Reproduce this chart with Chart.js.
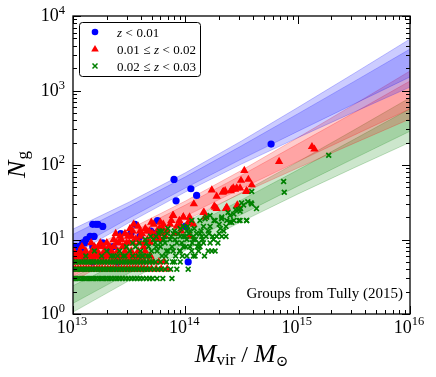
<!DOCTYPE html>
<html><head><meta charset="utf-8">
<script src="https://cdn.jsdelivr.net/npm/chart.js@4.4.1/dist/chart.umd.min.js"></script>
<style>html,body{margin:0;padding:0;background:#fff;}canvas{display:block;}</style>
</head><body>
<canvas id="c" width="436" height="377"></canvas>
<script>
// ---- data (masses in units of 1e13 Msun) ----
const blueM = [1.01,1.06,1.02,1.11,1.15,1.22,1.27,1.31,1.42,1.54,1.50,1.60,1.67,1.84,1.84,2.13,2.28,2.66,3.28,3.57,3.95,4.92,5.65,5.34,7.93,8.27,11.2,12.6,10.0,10.6,58,1.0,1.25,1.5,1.8,2.5,1.18,1.5];
const blueN = [8,7,6,8,8,9,9,10,11,11,16,16,16,15,9,7,8,12,12,16,11,13,18,12,64,33,48,39,15,5,191,6,6,5,6,5,7,8];

const redM = [3.47,4.98,5.23,4.56,3.09,2.55,3.59,3.97,4.26,3.17, 2.77,2.08,7.73,9.6,10.6,11.9,8.97,7.31,6.29,4.78, 3.95,3.22,3.33,2.62,2.45,2.13,1.86,1.68,3.64,5.48, 6.6,8.38,11.0,18.4,23.4,29.0,7.82,14.5,8.85,10.9, 11.8,6.37,5.87,6.11,5.26,5.95,33.5,31.3,36.4,39.0, 35.2,30.7,28.7,26.7,25.4,22.6,21.5,19.0,17.2,18.1, 19.0,23.0,29.0,68.3,134,141,14.7,15.0,9.6,10.9, 21.8,25.9,27.7,34.8, 1.02,1.15,1.3,1.47,1.65,1.9,2.2,2.5,2.9,3.3,3.8,4.4, 1.7,2.3,2.85,3.4,4.3,1.2,1.45,
  2.3,2.9,3.4,3.8,4.1,4.4,2.7,3.0,3.9,4.6, 5.1,5.6,2.0,1.75,1.55,2.4,4.9,5.7,6.8,7.5, 6.0,8.0,9.2];
const redN = [16,17,16,13,11,9,10,11,8,9, 8,8,21,20,17,30,16,16,14,13, 13,14,11,11,9,8,8,8,10,10, 11,15,11,27,27,29,21,23,18,17, 16,16,14,12,11,10,84,62,64,54, 45,49,49,49,45,45,43,38,46,28, 26,26,28,111,176,163,23,20,20,20, 44,47,47,44, 7,7,7,7,7,7,7,7,7,7,7,7, 8,8,8,9,9,8,9,
  10,12,13,15,12,14,10,9,9,10, 12,13,9,9,8,12,9,11,13,18, 17,12,13];
const redRowN = [4,5,6];
const redRowM = [
  [1.0,1.05,1.11,1.17,1.24,1.31,1.38,1.46,1.54,1.63,1.72,1.82,1.93,2.04,2.16,2.28,2.41,2.55,2.7,2.86,3.03,3.2,3.4,3.6,3.8,4.05,4.3,4.6,5.0,5.5,6.1,6.9],
  [1.0,1.06,1.12,1.19,1.26,1.33,1.41,1.49,1.58,1.67,1.77,1.87,1.98,2.1,2.22,2.35,2.5,2.65,2.8,2.97,3.15,3.35,3.55,3.78,4.0,4.3,4.7,5.2,5.8,6.5],
  [1.0,1.05,1.1,1.16,1.22,1.29,1.36,1.43,1.51,1.59,1.68,1.78,1.88,1.99,2.1,2.23,2.36,2.5,2.65,2.8,3.0,3.2,3.45,3.7,4.0,4.4,4.9]
];

const greenM = [189,75,76,39,36,38.5,43,33,31,28, 27,25,24,30,35,21,20,18,23,27, 22,20,23,17.5,16,14.5,16.6,13.5,11.8,11.4, 13.5,15.5,10.3,9.6,39,31.7,29.6,25,30.7,35.2, 15,16.6,18.4,21.1,23.4,25.9,30.7,21.1,9.6,11, 12.6,14,11.8,10.3,9,7.8,7.3,6.6,8.4,9.6, 11,13.1,14.5,16.6,18.4,6,5.6,6.8,7.8,9, 10.3,11.8,3.6,4,4.5,5,5.5,4.2,3.8,4.8, 5.2,6,3.2,2.8,2.5,3,6.2,7,6.5,5.8, 17.2,13.5,12.2,8.0, 1.3,1.8,2.2,2.9,3.4,4.1,4.6,1.55,2.0,
  4.4,4.9,5.4,5.9,6.4,6.9,7.5,8.1,8.7,9.3, 10.0,10.8,11.5,12.3,13.2,14.2,15.3,16.2,17.8,19.5, 7.0,8.0,9.0,10.5,12.0,13.8,6.2,5.5,4.7,7.6, 8.9,10.1,11.4,12.8,14.8,16.0,19.0,20.5,3.9,3.4, 2.6,2.3,6.7,8.2,9.4];
const greenN = [135,60,43,44,32,31,26,29,26,25, 22,21,23,18,18,19,16,18,15,18, 13,12,11,11,13,15,15,12,11,18, 18,20,13,11,30,31,25,17,18,18, 19,21,18,20,18,17,24,11,15,13, 12,11,10,10,11,12,10,9,9,8, 8,7,9,9,7,8,7,7,7,7, 6,6,8,7,9,7,8,6,6,6, 10,9,7,6,6,8,6,7,11,12, 7,8,6,5, 6,6,6,6,6,6,6,7,7,
  10,11,9,13,10,12,11,10,12,9, 11,12,9,10,9,10,11,12,10,9, 14,13,14,15,14,13,13,11,8,8, 7,8,7,8,6,7,11,14,9,9, 7,6,6,6,6];
const greenRowN = [3,4,5];
const greenRowM = [
  [1.00,1.04,1.09,1.14,1.2,1.26,1.32,1.39,1.46,1.53,1.61,1.70,1.79,1.88,1.98,2.09,2.2,2.33,2.46,2.6,2.75,2.92,3.1,3.3,3.5,3.72,3.95,4.2,4.5,4.8,5.1,5.6,6.3,7.6],
  [1.0,1.05,1.1,1.16,1.22,1.28,1.35,1.42,1.5,1.58,1.67,1.76,1.86,1.96,2.07,2.18,2.3,2.43,2.57,2.72,2.88,3.05,3.23,3.42,3.63,3.85,4.1,4.35,4.6,4.9,5.3,5.7,6.1,6.6,7.4,8.4,10.6],
  [1.0,1.06,1.12,1.18,1.25,1.31,1.38,1.45,1.53,1.62,1.71,1.81,1.92,2.03,2.15,2.27,2.4,2.54,2.69,2.85,3.0,3.18,3.36,3.56,3.77,4.0,4.25,4.5,4.8,5.1,5.4,6.0,6.8,7.7,9.0]
];

// model bands (edges read at log M = 13, 13.5, ..., 16)
const bandM = [1, 3.162, 10, 31.62, 100, 316.2, 1000];
const blueOuterHi = [13.8,31.8,78.5,210,590,1690,4910];
const blueOuterLo = [6.18,16.9,43.4,103,232,511,1110];
const blueInnerHi = [11.7,27.9,69.3,181,485,1315,3600];
const blueInnerLo = [7.33,19.4,49.1,120,282,656,1520];
const redOuterHi = [6.11,13.7,32.8,84.7,232,646,1828];
const redOuterLo = [2.73,7.28,18.1,41.7,91.0,195,415];
const redInnerHi = [5.15,12.0,29.0,72.9,191,502,1340];
const redInnerLo = [3.24,8.32,20.5,48.4,111,251,566];
const greenOuterHi = [3.14,7.18,17.1,42.4,110,294,800];
const greenOuterLo = [1.06,2.81,7.14,17.4,40.6,91.4,202];
const greenInnerHi = [2.40,5.68,13.7,34.0,85.5,220,568];
const greenInnerLo = [1.39,3.55,8.87,21.7,52.0,122,284];

const xTickExp = ['13','14','15','16'];
const yTickExp = ['0','1','2','3','4'];
const legendLabels = [['z','<','0.01'],['0.01','≤','z','<','0.02'],['0.02','≤','z','<','0.03']];
const noteText = 'Groups from Tully (2015)';

// ---- build ----
const UNIT = 1e13;
function pts(M, N){ return M.map((m,i)=>({x:m*UNIT, y:N[i]})); }
function rows(rowM, rowN){ let out=[]; rowM.forEach((arr,j)=>arr.forEach(m=>out.push({x:m*UNIT,y:rowN[j]}))); return out; }

const BLUE='rgb(0,0,255)', RED='rgb(255,0,0)', GREEN='rgb(0,128,0)';
const datasets = [];
datasets.push({label:'g', data: rows(greenRowM, greenRowN).concat(pts(greenM, greenN)), pointStyle:'crossRot', pointRadius:3.4, pointBorderWidth:1.7, borderColor:GREEN, backgroundColor:GREEN, showLine:false});
datasets.push({label:'r', data: rows(redRowM, redRowN).concat(pts(redM, redN)), pointStyle:'triangle', pointRadius:4.8, pointBorderWidth:0, borderColor:RED, backgroundColor:RED, showLine:false});
datasets.push({label:'b', data: pts(blueM, blueN), pointStyle:'circle', pointRadius:3.6, pointBorderWidth:0, borderColor:BLUE, backgroundColor:BLUE, showLine:false});
function band(hi, lo, fillc, edge){
  datasets.push({type:'line', data: pts(bandM, hi), fill:'+1', backgroundColor: fillc, borderColor: edge, borderWidth:1, pointRadius:0, tension:0, showLine:true});
  datasets.push({type:'line', data: pts(bandM, lo), fill:false, backgroundColor: fillc, borderColor: edge, borderWidth:1, pointRadius:0, tension:0, showLine:true});
}
band(blueOuterHi, blueOuterLo, 'rgba(0,0,255,0.2)', 'rgba(0,0,255,0.22)');
band(blueInnerHi, blueInnerLo, 'rgba(0,0,255,0.2)', 'rgba(0,0,255,0.22)');
band(redOuterHi, redOuterLo, 'rgba(255,0,0,0.2)', 'rgba(255,0,0,0.22)');
band(redInnerHi, redInnerLo, 'rgba(255,0,0,0.2)', 'rgba(255,0,0,0.22)');
band(greenOuterHi, greenOuterLo, 'rgba(0,128,0,0.2)', 'rgba(0,128,0,0.22)');
band(greenInnerHi, greenInnerLo, 'rgba(0,128,0,0.2)', 'rgba(0,128,0,0.22)');

const SERIF = '"Liberation Serif","DejaVu Serif",serif';

const deco = {
  id: 'deco',
  afterDraw(chart){
    const ctx = chart.ctx, xs = chart.scales.x, ys = chart.scales.y, a = chart.chartArea;
    ctx.save();
    ctx.strokeStyle = '#000'; ctx.lineWidth = 1;
    ctx.beginPath();
    for (let e = 13; e <= 16; e++) for (let k = 1; k <= 9; k++) {
      if (e === 16 && k > 1) break;
      const px = Math.round(xs.getPixelForValue(k*Math.pow(10,e))) + 0.5;
      const len = k === 1 ? 8 : 4;
      ctx.moveTo(px, a.bottom); ctx.lineTo(px, a.bottom - len);
      ctx.moveTo(px, a.top); ctx.lineTo(px, a.top + len);
    }
    for (let e = 0; e <= 4; e++) for (let k = 1; k <= 9; k++) {
      if (e === 4 && k > 1) break;
      const py = Math.round(ys.getPixelForValue(k*Math.pow(10,e))) + 0.5;
      const len = k === 1 ? 8 : 4;
      ctx.moveTo(a.left, py); ctx.lineTo(a.left + len, py);
      ctx.moveTo(a.right, py); ctx.lineTo(a.right - len, py);
    }
    ctx.stroke();
    ctx.lineWidth = 1.3;
    ctx.strokeRect(a.left, a.top, a.right - a.left, a.bottom - a.top);

    ctx.fillStyle = '#000';
    ctx.textBaseline = 'alphabetic'; ctx.textAlign = 'left';
    xTickExp.forEach(s => {
      const px = xs.getPixelForValue(Math.pow(10, +s));
      ctx.font = '18px ' + SERIF; const w1 = ctx.measureText('10').width;
      ctx.font = '12.5px ' + SERIF; const w2 = ctx.measureText(s).width;
      const x0 = px - (w1 + w2)/2 - 1;
      ctx.font = '18px ' + SERIF; ctx.fillText('10', x0, a.bottom + 19);
      ctx.font = '12.5px ' + SERIF; ctx.fillText(s, x0 + w1, a.bottom + 11);
    });
    yTickExp.forEach(s => {
      const py = ys.getPixelForValue(Math.pow(10, +s));
      ctx.font = '18px ' + SERIF; const w1 = ctx.measureText('10').width;
      ctx.font = '12.5px ' + SERIF; const w2 = ctx.measureText(s).width;
      const x0 = a.left - 8 - w1 - w2;
      ctx.font = '18px ' + SERIF; ctx.fillText('10', x0, py + 5);
      ctx.font = '12.5px ' + SERIF; ctx.fillText(s, x0 + w1, py - 2);
    });
    ctx.save();
    ctx.translate(25, (a.top + a.bottom)/2);
    ctx.rotate(-Math.PI/2);
    ctx.font = 'italic 26px ' + SERIF; const wN = ctx.measureText('N').width;
    ctx.font = '17px ' + SERIF; const wg = ctx.measureText('g').width;
    let sx = -(wN + wg)/2;
    ctx.font = 'italic 26px ' + SERIF; ctx.fillText('N', sx, 0);
    ctx.font = '17px ' + SERIF; ctx.fillText('g', sx + wN + 1, 3);
    ctx.restore();
    const parts = [
      {t:'M', f:'italic 26px ', dy:0},
      {t:'vir', f:'17px ', dy:3},
      {t:' / ', f:'24px ', dy:0},
      {t:'M', f:'italic 26px ', dy:0},
      {t:'\u2299', f:'15px ', dy:4}
    ];
    let tw = 0; parts.forEach(p => { ctx.font = p.f + SERIF; p.w = ctx.measureText(p.t).width; tw += p.w; });
    let cx = (a.left + a.right)/2 - tw/2;
    parts.forEach(p => { ctx.font = p.f + SERIF; ctx.fillText(p.t, cx, 362 + p.dy); cx += p.w; });
    ctx.font = '15px ' + SERIF; ctx.textAlign = 'right';
    ctx.fillText(noteText, a.right - 7, a.bottom - 16);
    ctx.textAlign = 'left';
    const L = 79.5, T = 22.5, W = 121, H = 54, r = 3;
    ctx.beginPath();
    ctx.moveTo(L + r, T); ctx.lineTo(L + W - r, T); ctx.arcTo(L + W, T, L + W, T + r, r);
    ctx.lineTo(L + W, T + H - r); ctx.arcTo(L + W, T + H, L + W - r, T + H, r);
    ctx.lineTo(L + r, T + H); ctx.arcTo(L, T + H, L, T + H - r, r);
    ctx.lineTo(L, T + r); ctx.arcTo(L, T, L + r, T, r); ctx.closePath();
    ctx.fillStyle = '#fff'; ctx.fill();
    ctx.strokeStyle = '#000'; ctx.lineWidth = 1; ctx.stroke();
    const rowsY = [32, 49, 66];
    ctx.fillStyle = BLUE; ctx.beginPath(); ctx.arc(95, rowsY[0], 3.3, 0, 2*Math.PI); ctx.fill();
    ctx.fillStyle = RED; ctx.beginPath();
    ctx.moveTo(95, rowsY[1] - 4); ctx.lineTo(98.8, rowsY[1] + 2.6); ctx.lineTo(91.2, rowsY[1] + 2.6); ctx.closePath(); ctx.fill();
    ctx.strokeStyle = GREEN; ctx.lineWidth = 1.5; ctx.beginPath();
    ctx.moveTo(92.5, rowsY[2] - 2.5); ctx.lineTo(97.5, rowsY[2] + 2.5);
    ctx.moveTo(97.5, rowsY[2] - 2.5); ctx.lineTo(92.5, rowsY[2] + 2.5); ctx.stroke();
    ctx.fillStyle = '#000';
    legendLabels.forEach((arr, i) => {
      let x = 117; const y = rowsY[i] + 4.5;
      arr.forEach(tok => {
        ctx.font = (tok === 'z' ? 'italic 13px ' : '13px ') + SERIF;
        const rel = (tok === '<' || tok === '≤');
        if (rel) x += 3.5;
        ctx.fillText(tok, x, y);
        x += ctx.measureText(tok).width;
        if (rel) x += 3.5;
      });
    });
    ctx.restore();
  }
};

new Chart(document.getElementById('c'), {
  type: 'scatter',
  data: { datasets },
  options: {
    responsive: false, animation: false, devicePixelRatio: 1,
    layout: { padding: { left: 73, right: 26, top: 16, bottom: 63 } },
    plugins: { legend: { display: false }, tooltip: { enabled: false } },
    scales: {
      x: { type: 'logarithmic', min: 1e13, max: 1e16, display: false },
      y: { type: 'logarithmic', min: 1, max: 1e4, display: false }
    }
  },
  plugins: [deco]
});
</script>
</body></html>
